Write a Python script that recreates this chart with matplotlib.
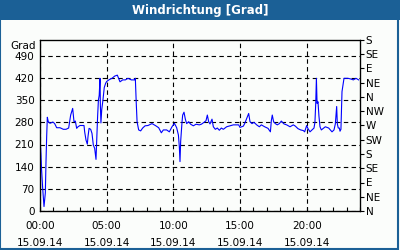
import matplotlib
matplotlib.use("Agg")
import matplotlib.pyplot as plt
from matplotlib.patches import Rectangle

# Windrichtung ueber den Tag (Stunde, Grad)
stunden = [0.05, 0.12, 0.2, 0.3, 0.4, 0.45, 0.5, 0.55,
           0.62, 0.75, 0.97, 1.1, 1.25, 1.5, 1.75, 1.95,
           2.15, 2.3, 2.45, 2.55, 2.65, 2.75, 2.85, 3.0,
           3.3, 3.35, 3.45, 3.55, 3.6, 3.68, 3.8, 3.9,
           4.0, 4.1, 4.2, 4.25, 4.32, 4.38, 4.44, 4.5,
           4.53, 4.57, 4.63, 4.72, 4.82, 4.92, 5.0, 5.2,
           5.4, 5.6, 5.8, 6.0, 6.2, 6.4, 6.6, 6.85,
           7.1, 7.15, 7.22, 7.28, 7.4, 7.55, 7.7, 7.88,
           8.1, 8.4, 8.65, 8.9, 9.1, 9.25, 9.5, 9.7,
           9.9, 10.08, 10.25, 10.38, 10.45, 10.5, 10.55, 10.65,
           10.7, 10.8, 10.9, 11.0, 11.15, 11.3, 11.5, 11.7,
           11.95, 12.1, 12.3, 12.45, 12.55, 12.65, 12.75, 12.9,
           13.0, 13.15, 13.3, 13.45, 13.6, 13.75, 14.0, 14.5,
           14.75, 14.9, 15.0, 15.25, 15.35, 15.5, 15.65, 15.75,
           15.9, 16.05, 16.25, 16.45, 16.6, 16.85, 17.1, 17.28,
           17.35, 17.42, 17.52, 17.65, 17.8, 17.95, 18.1, 18.3,
           18.5, 18.75, 19.0, 19.15, 19.35, 19.55, 19.75, 19.85,
           20.0, 20.1, 20.25, 20.4, 20.55, 20.62, 20.68, 20.73,
           20.78, 20.85, 20.92, 21.0, 21.1, 21.25, 21.4, 21.65,
           21.9, 22.05, 22.15, 22.25, 22.3, 22.37, 22.45, 22.5,
           22.57, 22.65, 22.8, 23.1, 23.3, 23.5, 23.7, 23.9]
grad = [198, 129, 72, 14, 57, 156, 235, 296,
        282, 277, 281, 276, 263, 263, 258, 258,
        262, 303, 324, 282, 284, 261, 266, 270,
        270, 250, 224, 211, 235, 261, 258, 245,
        208, 198, 163, 220, 298, 350, 365, 419,
        330, 278, 320, 350, 390, 403, 409, 415,
        419, 426, 429, 408, 414, 414, 419, 414,
        414, 419, 340, 282, 256, 253, 262, 269,
        270, 276, 270, 263, 247, 256, 256, 250,
        266, 277, 263, 240, 203, 156, 220, 280,
        303, 312, 290, 276, 282, 274, 269, 274,
        272, 274, 280, 285, 303, 282, 275, 290,
        266, 258, 262, 255, 262, 258, 266, 272,
        272, 272, 264, 268, 276, 292, 308, 282,
        276, 280, 272, 266, 272, 266, 261, 250,
        285, 303, 282, 276, 272, 276, 284, 275,
        272, 266, 272, 268, 260, 256, 254, 250,
        270, 260, 250, 256, 262, 280, 340, 419,
        340, 345, 300, 266, 256, 261, 266, 262,
        250, 256, 275, 330, 275, 262, 262, 252,
        258, 377, 419, 419, 417, 414, 419, 414]

y_ticks = [0, 70, 140, 210, 280, 350, 420, 490]
richtungen = ['N', 'NE', 'E', 'SE', 'S', 'SW', 'W', 'NW', 'N', 'NE', 'E', 'SE', 'S']
x_ticks = [0, 5, 10, 15, 20]
x_labels = ['00:00\n15.09.14', '05:00\n15.09.14', '10:00\n15.09.14',
            '15:00\n15.09.14', '20:00\n15.09.14']

blau = '#1b6096'
fig = plt.figure(figsize=(4, 2.5), dpi=100, facecolor='#fbfdfb')

# Titelleiste und Rahmen
fig.patches.append(Rectangle((0, 0.92), 1, 0.08, transform=fig.transFigure,
                             facecolor=blau, edgecolor='none', zorder=0))
fig.patches.append(Rectangle((0.0012, 0.004), 0.995, 0.99, transform=fig.transFigure,
                             facecolor='none', edgecolor=blau, linewidth=1.5, zorder=0))
fig.text(0.5, 0.958, 'Windrichtung [Grad]', color='white', fontsize=8.5, fontweight='bold',
         ha='center', va='center')

ax = fig.add_axes([0.1, 0.156, 0.8, 0.684])
ax.set_facecolor('#fbfdfb')
ax.plot(stunden, grad, color='#0000ff', linewidth=0.8, zorder=3)

ax.set_xlim(0, 24)
ax.set_ylim(0, 540)
ax.set_yticks(y_ticks)
ax.set_xticks(x_ticks)
ax.set_xticklabels(x_labels, fontsize=7.5, linespacing=1.85)
ax.set_xticks(range(0, 25), minor=True)
ax.tick_params(axis='x', which='both', direction='in', length=3, width=0.8, pad=7)
ax.tick_params(axis='y', length=0, pad=4, labelsize=7.5)
for s in ax.spines.values():
    s.set_linewidth(0.9)
ax.grid(True, color='black', linestyle=(0, (4, 3)), linewidth=0.8)
ax.text(-0.012, 521, 'Grad', transform=ax.get_yaxis_transform(), ha='right', va='center',
        fontsize=7.5)

ax2 = ax.twinx()
ax2.set_ylim(0, 540)
ax2.set_yticks(range(0, 541, 45))
ax2.set_yticklabels(richtungen, fontsize=7.5)
ax2.tick_params(axis='y', direction='out', length=3, width=0.8, pad=1)

fig.savefig('out.png', dpi=100, facecolor=fig.get_facecolor())
